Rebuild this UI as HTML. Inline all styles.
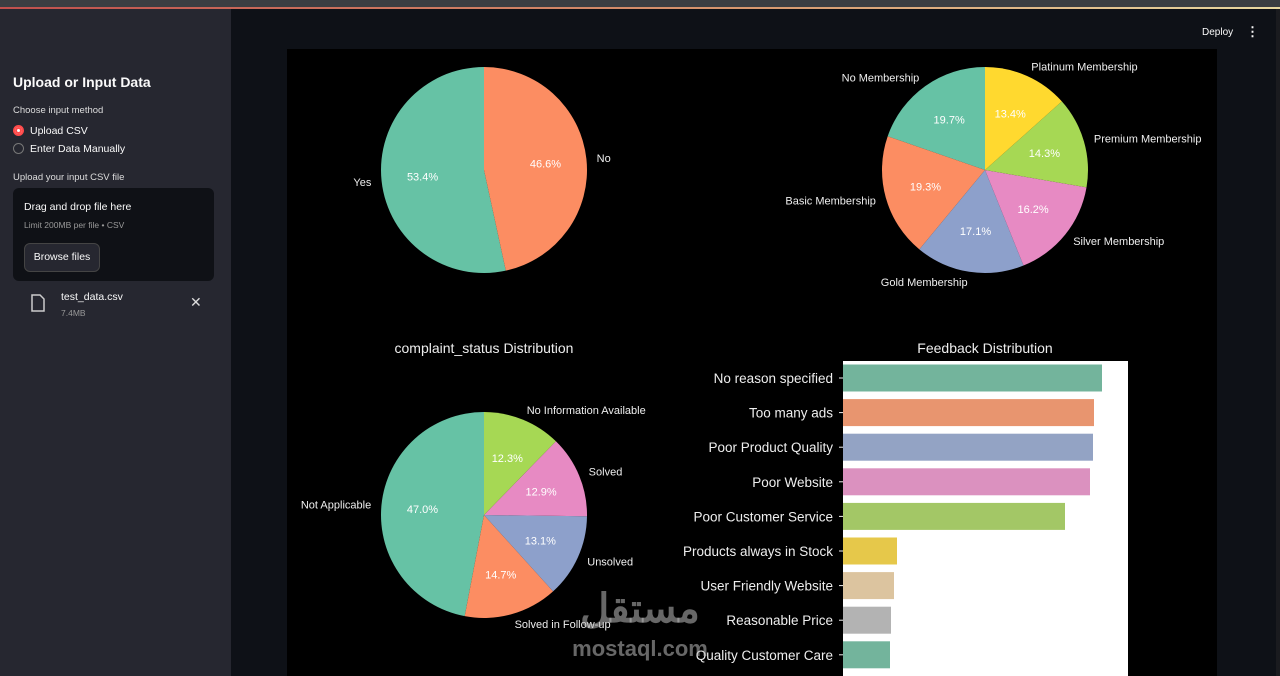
<!DOCTYPE html>
<html><head><meta charset="utf-8">
<style>
html,body{margin:0;padding:0;width:1280px;height:676px;overflow:hidden;background:#0e1117;font-family:"Liberation Sans",sans-serif;}
#top{position:absolute;left:0;top:0;width:1280px;height:7px;background:#3b3e42;}
#topline{position:absolute;left:0;top:7px;width:1280px;height:2px;background:linear-gradient(90deg,#c0504d,#d89a70 60%,#e8d8a0);}
#side{position:absolute;left:0;top:9px;width:231px;height:667px;background:#262730;color:#fafafa;}
#main{position:absolute;left:231px;top:9px;width:1045px;height:667px;background:#0e1117;}
#edge{position:absolute;left:1276px;top:9px;width:4px;height:667px;background:#1a1b1f;}
.t{position:absolute;white-space:nowrap;}
</style></head><body>
<div id="top"></div>
<div id="topline"></div>
<div id="side">
  <div class="t" style="left:13px;top:65px;font-size:14px;font-weight:bold">Upload or Input Data</div>
  <div class="t" style="left:13px;top:96px;font-size:9.5px;color:#ddd">Choose input method</div>
  <div class="t" style="left:13px;top:116px;font-size:10.5px"><span style="display:inline-block;width:7px;height:7px;border-radius:50%;border:2px solid #ff4b4b;background:#fff;box-shadow:inset 0 0 0 2px #ff4b4b;vertical-align:-2px;margin-right:6px"></span>Upload CSV</div>
  <div class="t" style="left:13px;top:134px;font-size:10.5px"><span style="display:inline-block;width:9px;height:9px;border-radius:50%;border:1px solid #777;vertical-align:-2px;margin-right:6px"></span>Enter Data Manually</div>
  <div class="t" style="left:13px;top:163px;font-size:9.5px;color:#ddd">Upload your input CSV file</div>
  <div style="position:absolute;left:13px;top:179px;width:201px;height:93px;background:#0f1116;border-radius:6px">
    <div class="t" style="left:11px;top:13px;font-size:10.5px">Drag and drop file here</div>
    <div class="t" style="left:11px;top:32px;font-size:8.5px;color:#999">Limit 200MB per file • CSV</div>
    <div class="t" style="left:11px;top:55px;width:74px;height:27px;border:1px solid #444;border-radius:6px;background:#262730;font-size:10.5px;line-height:27px;text-align:center">Browse files</div>
  </div>
  <svg style="position:absolute;left:30px;top:285px" width="16" height="18"><path d="M2 1h8l4 4v12H2z" fill="none" stroke="#ccc" stroke-width="1.5"/></svg>
  <div class="t" style="left:61px;top:282px;font-size:10.5px">test_data.csv</div>
  <div class="t" style="left:61px;top:299px;font-size:8.5px;color:#999">7.4MB</div>
  <div class="t" style="left:190px;top:285px;font-size:14px;color:#ddd">✕</div>
</div>
<div id="main">
  <div class="t" style="left:971px;top:18px;font-size:10px;color:#fafafa">Deploy</div>
  <div class="t" style="left:1015px;top:15px;font-size:13px;color:#fafafa;font-weight:bold">⋮</div>
</div>
<div id="edge"></div>
<svg id="fig" style="position:absolute;left:0;top:0" width="1280" height="676">
  <rect x="287" y="49" width="930" height="627" fill="#000"/>
  <text x="484" y="353" fill="#eee" font-size="14" text-anchor="middle">complaint_status Distribution</text>
  <text x="985" y="353" fill="#eee" font-size="14" text-anchor="middle">Feedback Distribution</text>
  <rect x="843" y="361" width="285" height="315" fill="#fff"/>
  <g id="pies"></g>
  <g id="bars"></g>
  <text x="640" y="622" fill="#bbb" fill-opacity="0.55" font-size="40" font-weight="bold" text-anchor="middle" font-family="'Liberation Sans','Noto Sans CJK SC',sans-serif">مستقل</text>
  <text x="640" y="656" fill="#bbb" fill-opacity="0.55" font-size="22" font-weight="bold" text-anchor="middle">mostaql.com</text>
</svg>
<script>
const pie1Labels=["Yes","No"];
const pie1Values=[53.4,46.6];
const pie2Labels=["No Membership","Basic Membership","Gold Membership","Silver Membership","Premium Membership","Platinum Membership"];
const pie2Values=[19.7,19.3,17.1,16.2,14.3,13.4];
const pie3Labels=["Not Applicable","Solved in Follow-up","Unsolved","Solved","No Information Available"];
const pie3Values=[47.0,14.7,13.1,12.9,12.3];
const barCategories=["No reason specified","Too many ads","Poor Product Quality","Poor Website","Poor Customer Service","Products always in Stock","User Friendly Website","Reasonable Price","Quality Customer Care"];
const barValues=[259,251,250,247,222,54,51,48,47];
const barMax=285;

const set2=["#66c2a5","#fc8d62","#8da0cb","#e78ac3","#a6d854","#ffd92f","#e5c494","#b3b3b3"];
const barCols=["#73b49c","#e8956f","#93a3c4","#db91bf","#a3c766","#e6c84a","#dcc49f","#b3b3b3","#73b49c"];
const NS="http://www.w3.org/2000/svg";
function mk(tag,attrs,parent){const e=document.createElementNS(NS,tag);for(const k in attrs)e.setAttribute(k,attrs[k]);parent.appendChild(e);return e;}
const pies=document.getElementById('pies');
function drawPie(labels,values,cx,cy,r,name){
  const tot=values.reduce((a,b)=>a+b,0);
  let a=90;
  values.forEach((v,i)=>{
    const span=v/tot*360, a2=a+span, mid=(a+a2)/2;
    const p=(d,rr)=>[cx+rr*Math.cos(d*Math.PI/180),cy-rr*Math.sin(d*Math.PI/180)];
    const [x1,y1]=p(a,r),[x2,y2]=p(a2,r);
    const path=mk('path',{d:`M${cx},${cy}L${x1},${y1}A${r},${r} 0 ${span>180?1:0} 0 ${x2},${y2}Z`,fill:set2[i%8]},pies);
    
    
    const [px,py]=p(mid,r*0.6);
    const pt=mk('text',{x:px,y:py+4,fill:'#fff','font-size':11,'text-anchor':'middle'},pies);
    pt.textContent=v.toFixed(1)+'%';
    
    
    const [lx,ly]=p(mid,r*1.1);
    const c=Math.cos(mid*Math.PI/180);
    const lt=mk('text',{x:lx,y:ly+4,fill:'#eee','font-size':11,'text-anchor':c<-0.01?'end':'start'},pies);
    lt.textContent=labels[i];
    
    
    a=a2;
  });
}
drawPie(pie1Labels,pie1Values,484,170,103,'pie-churn');
drawPie(pie2Labels,pie2Values,985,170,103,'pie-membership');
drawPie(pie3Labels,pie3Values,484,515,103,'pie-complaint');
const bars=document.getElementById('bars');
const x0=843,xw=285,y0=361,step=34.6,bh=27;
const xs=v=>v/barMax*xw;
const yc=i=>y0+17+i*step;
barCategories.forEach((c,i)=>{
  const b=mk('rect',{x:x0,y:yc(i)-bh/2,width:xs(barValues[i]),height:bh,fill:barCols[i]},bars);
  
  
  const tk=mk('line',{x1:x0-4,x2:x0,y1:yc(i),y2:yc(i),stroke:'#eee'},bars);
  
  
  const t=mk('text',{x:x0-10,y:yc(i)+5,fill:'#eee','font-size':13.5,'text-anchor':'end'},bars);
  t.textContent=c;
  
  
});
</script>
</body></html>
